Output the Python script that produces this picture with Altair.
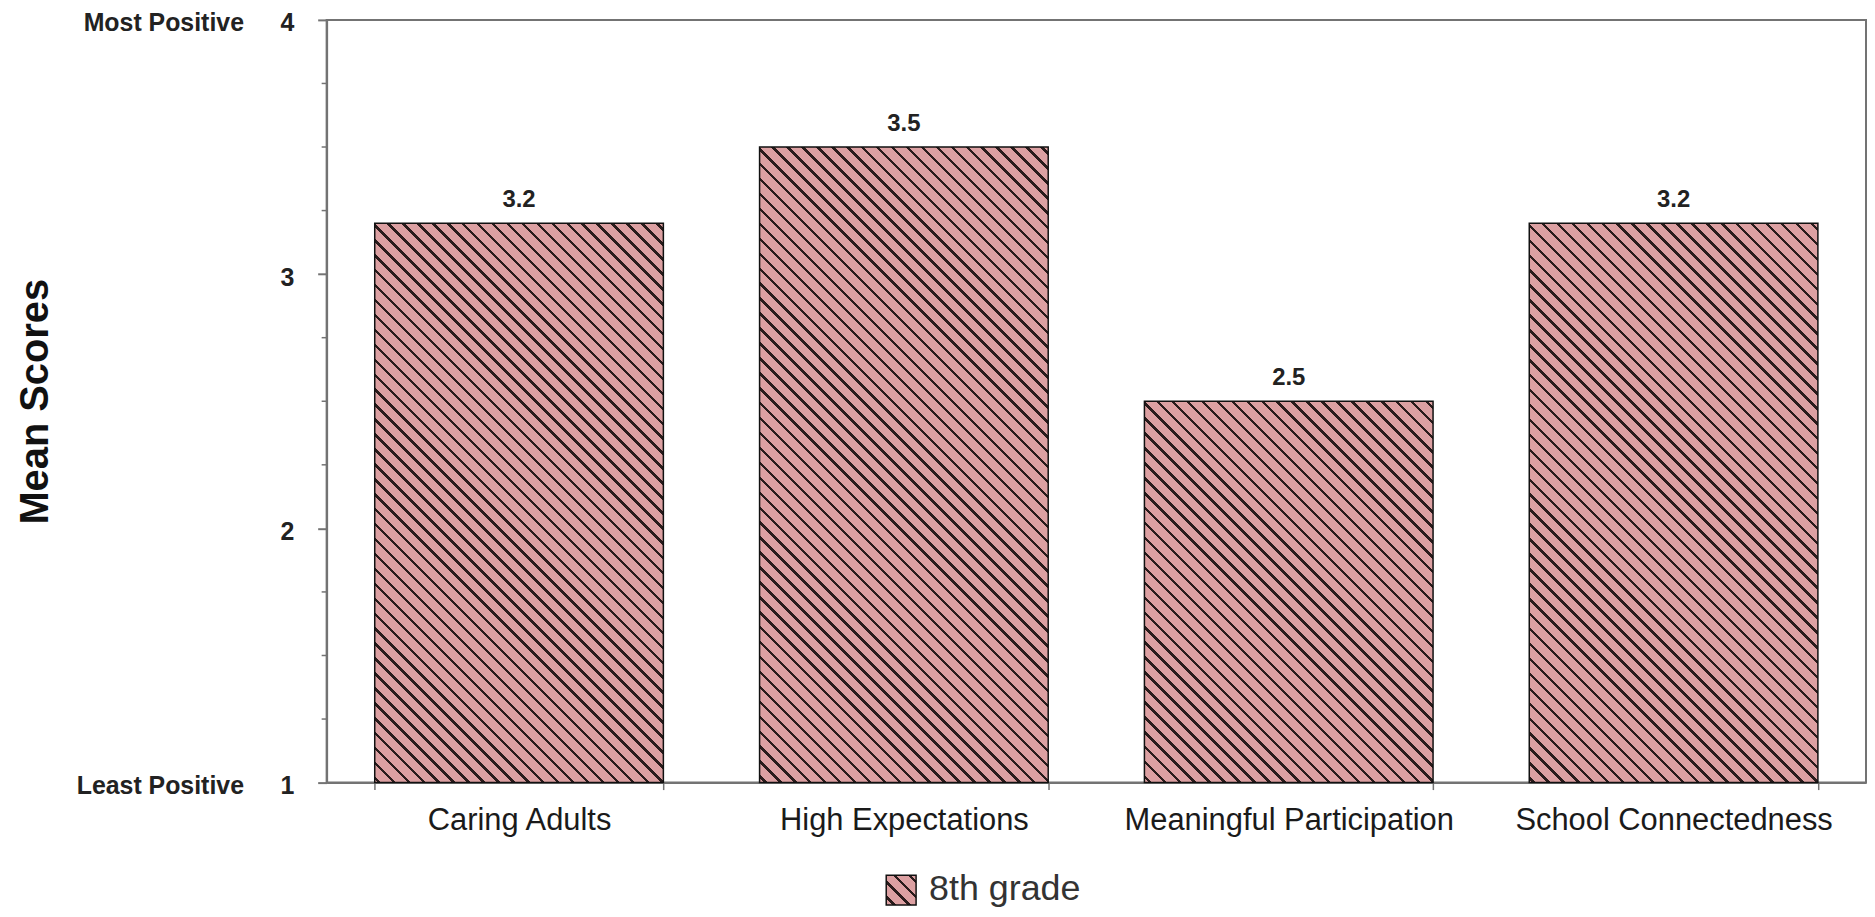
import altair as alt
import pandas as pd

# ---- data -------------------------------------------------------------
categories = ["Caring Adults", "High Expectations", "Meaningful Participation", "School Connectedness"]
scores = [3.2, 3.5, 2.5, 3.2]
series_name = ["8th grade"]
y_major_ticks = [1, 2, 3, 4]
y_minor_ticks = [1.25, 1.5, 1.75, 2.25, 2.5, 2.75, 3.25, 3.5, 3.75]
end_labels = ["Least Positive", "Most Positive"]
end_values = [1, 4]

# ---- layout / style ---------------------------------------------------
PLOT_W, PLOT_H = 1546, 766
PAD = {"left": 320, "top": 10, "right": 1, "bottom": 127}
Y_DOMAIN = [1, 4]
PAD_INNER, PAD_OUTER = 0.25, 0.125
FONT = "Liberation Sans"
FILL = "#DCA0A2"
HATCH = "#2a1c1c"
GRAY = "#737373"
PERIOD = 15.0
LINE_W = 3.5


def hatch(w, h):
    s = w + h
    k = s / (w * w + h * h)
    stops = [alt.GradientStop(offset=0, color=FILL)]
    i = 0
    while True:
        a = (i * PERIOD + 5.0) / s
        if a >= 1:
            break
        b = min(a + LINE_W / s, 1.0)
        stops += [
            alt.GradientStop(offset=a, color=FILL),
            alt.GradientStop(offset=a, color=HATCH),
            alt.GradientStop(offset=b, color=HATCH),
            alt.GradientStop(offset=b, color=FILL),
        ]
        i += 1
    stops.append(alt.GradientStop(offset=1, color=FILL))
    return alt.LinearGradient(gradient="linear", stops=stops,
                              x1=1, y1=0, x2=1 - w * k, y2=h * k)


df = pd.DataFrame({"category": categories, "score": scores})
df_end = pd.DataFrame({"score": end_values, "label": end_labels})
df_minor = pd.DataFrame({"score": y_minor_ticks})
df_leg = pd.DataFrame({"series": series_name})

n = len(categories)
step = PLOT_W / (n - PAD_INNER + 2 * PAD_OUTER)
bar_w = step * (1 - PAD_INNER)
unit_px = PLOT_H / (Y_DOMAIN[1] - Y_DOMAIN[0])

x_axis = alt.Axis(labelAngle=0, labelFont=FONT, labelFontSize=31, labelColor="#1a1a1a",
                  labelPadding=16, tickSize=7, tickBand="extent", tickColor=GRAY,
                  tickWidth=1.5, domainColor=GRAY, domainWidth=2, title=None,
                  labelLimit=0)
x_enc = alt.X("category:N", sort=categories,
              scale=alt.Scale(paddingInner=PAD_INNER, paddingOuter=PAD_OUTER),
              axis=x_axis)

y_axis = alt.Axis(values=y_major_ticks, format="d", labelFont=FONT, labelFontSize=25,
                  labelFontWeight="bold", labelColor="#222222", labelPadding=24,
                  labelOffset=3,
                  tickSize=9, tickColor=GRAY, tickWidth=2, domainColor=GRAY,
                  domainWidth=2, grid=False, title="Mean Scores", titleFont=FONT,
                  titleFontSize=40, titleFontWeight="bold", titleColor="#111111",
                  titleX=-292, titleY=PLOT_H / 2, titleAngle=-90, titleAlign="center",
                  titleBaseline="middle")
y_scale = alt.Scale(domain=Y_DOMAIN, nice=False, zero=False)
y_enc = alt.Y("score:Q", scale=y_scale, axis=y_axis)

layers = []
for cat, val in zip(categories, scores):
    h = (val - Y_DOMAIN[0]) * unit_px
    layers.append(
        alt.Chart(df).transform_filter(alt.datum.category == cat)
        .mark_bar(fill=hatch(bar_w, h), stroke="#111111", strokeWidth=1.5)
        .encode(x=x_enc, y=y_enc, y2=alt.datum(Y_DOMAIN[0]))
    )

value_labels = alt.Chart(df).mark_text(
    font=FONT, fontSize=24, fontWeight="bold", color="#222222",
    baseline="alphabetic", dy=-16
).encode(x=x_enc, y=y_enc, text=alt.Text("score:Q", format=".1f"))

end_text = alt.Chart(df_end).mark_text(
    font=FONT, fontSize=25, fontWeight="bold", color="#222222",
    align="right", baseline="middle", dy=3
).encode(x=alt.value(-83), y=y_enc, text="label:N")

minor_ticks = alt.Chart(df_minor).mark_rule(color=GRAY, strokeWidth=1.5).encode(
    y=y_enc, x=alt.value(-5), x2=alt.value(0)
)

legend_box = alt.Chart(df_leg).mark_rect(
    fill=hatch(30, 30), stroke="#111111", strokeWidth=1.5
).encode(x=alt.value(562), x2=alt.value(592), y=alt.value(859), y2=alt.value(889))

legend_text = alt.Chart(df_leg).mark_text(
    font=FONT, fontSize=36, color="#333333", align="left", baseline="middle"
).encode(x=alt.value(605), y=alt.value(873), text="series:N")

chart = alt.layer(*layers, value_labels, end_text, minor_ticks, legend_box, legend_text).properties(
    width=PLOT_W, height=PLOT_H,
    padding=PAD,
    autosize=alt.AutoSizeParams(type="none"),
    background="white",
).configure_view(stroke=GRAY, strokeWidth=2)

chart.save("out.html", embed_options={"renderer": "svg", "actions": False})
